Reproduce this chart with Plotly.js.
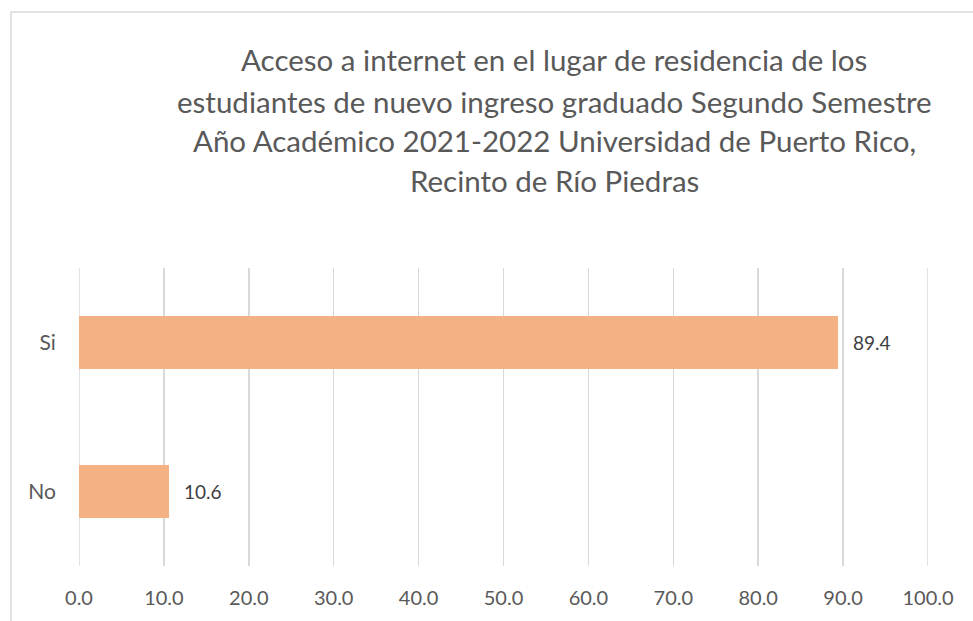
<!DOCTYPE html>
<html>
<head>
<meta charset="utf-8">
<script src="https://cdn.plot.ly/plotly-3.0.1.min.js"></script>
<style>html,body{margin:0;padding:0;background:#fff;}#chart{width:973px;height:621px;}</style>
</head>
<body>
<div id="chart"></div>
<script>
const categories = ['Si', 'No'];
const values = [89.4, 10.6];
const labels = ['89.4', '10.6'];
const tickVals = [0, 10, 20, 30, 40, 50, 60, 70, 80, 90, 100];
const tickText = ['0.0', '10.0', '20.0', '30.0', '40.0', '50.0', '60.0', '70.0', '80.0', '90.0', '100.0'];
const titleLines = [
  'Acceso a internet en el lugar de residencia de los',
  'estudiantes de nuevo ingreso graduado Segundo Semestre',
  'Año Académico 2021-2022 Universidad de Puerto Rico,',
  'Recinto de Río Piedras'
];

const FONT = 'Lato, Calibri, "Noto Sans", sans-serif';
const GRAY = '#595959';
const GRID = '#D9D9D9';
const L = 79, R = 928, T = 268, B = 566, W = 973, H = 621;
const px2x = p => (p - L) / (R - L);
const py2y = p => (B - p) / (B - T);

const annotations = [];
const titleY = [60, 101, 140, 180];
titleLines.forEach((t, i) => annotations.push({
  text: t, xref: 'paper', yref: 'paper', x: px2x(554), y: py2y(titleY[i]),
  xanchor: 'center', yanchor: 'middle', showarrow: false,
  font: {family: FONT, size: 29.5, color: GRAY}
}));
values.forEach((v, i) => annotations.push({
  text: labels[i], x: v, y: categories[i], xref: 'x', yref: 'y',
  xanchor: 'left', yanchor: 'middle', xshift: 13, showarrow: false,
  font: {family: FONT, size: 19, color: '#404040'}
}));

const data = [{
  type: 'bar', orientation: 'h', x: values, y: categories,
  marker: {color: '#F4B183', line: {width: 0}},
  hoverinfo: 'none'
}];

// edge gridlines (plotly omits gridlines at the range ends)
const edgeGrid = [tickVals[0], tickVals[tickVals.length - 1]].map(v => ({
  type: 'line', xref: 'x', yref: 'paper', x0: v, x1: v, y0: 0, y1: 1,
  layer: 'below', line: {color: GRID, width: 1.5}
}));

const layout = {
  width: W, height: H,
  margin: {l: L, r: W - R, t: T, b: H - B, pad: 0},
  paper_bgcolor: '#ffffff', plot_bgcolor: '#ffffff',
  showlegend: false,
  bargap: 0.644,
  xaxis: {
    range: [tickVals[0], tickVals[tickVals.length - 1]], tickvals: tickVals, ticktext: tickText,
    showgrid: true, gridcolor: GRID, gridwidth: 1.5,
    zeroline: false, showline: false,
    ticks: 'outside', ticklen: 14, tickcolor: 'rgba(0,0,0,0)',
    tickfont: {family: FONT, size: 20, color: GRAY}, fixedrange: true
  },
  yaxis: {
    autorange: 'reversed', type: 'category',
    showgrid: false, zeroline: false, showline: false,
    ticks: 'outside', ticklen: 18, tickcolor: 'rgba(0,0,0,0)',
    tickfont: {family: FONT, size: 21, color: GRAY}, fixedrange: true
  },
  annotations: annotations,
  shapes: edgeGrid.concat([
    {type: 'line', xref: 'paper', yref: 'paper', x0: px2x(11), x1: px2x(975), y0: py2y(12), y1: py2y(12), line: {color: GRID, width: 1.5}},
    {type: 'line', xref: 'paper', yref: 'paper', x0: px2x(11), x1: px2x(11), y0: py2y(12), y1: py2y(625), line: {color: GRID, width: 1.5}}
  ])
};

Plotly.newPlot('chart', data, layout, {displayModeBar: false, staticPlot: true});
</script>
</body>
</html>
